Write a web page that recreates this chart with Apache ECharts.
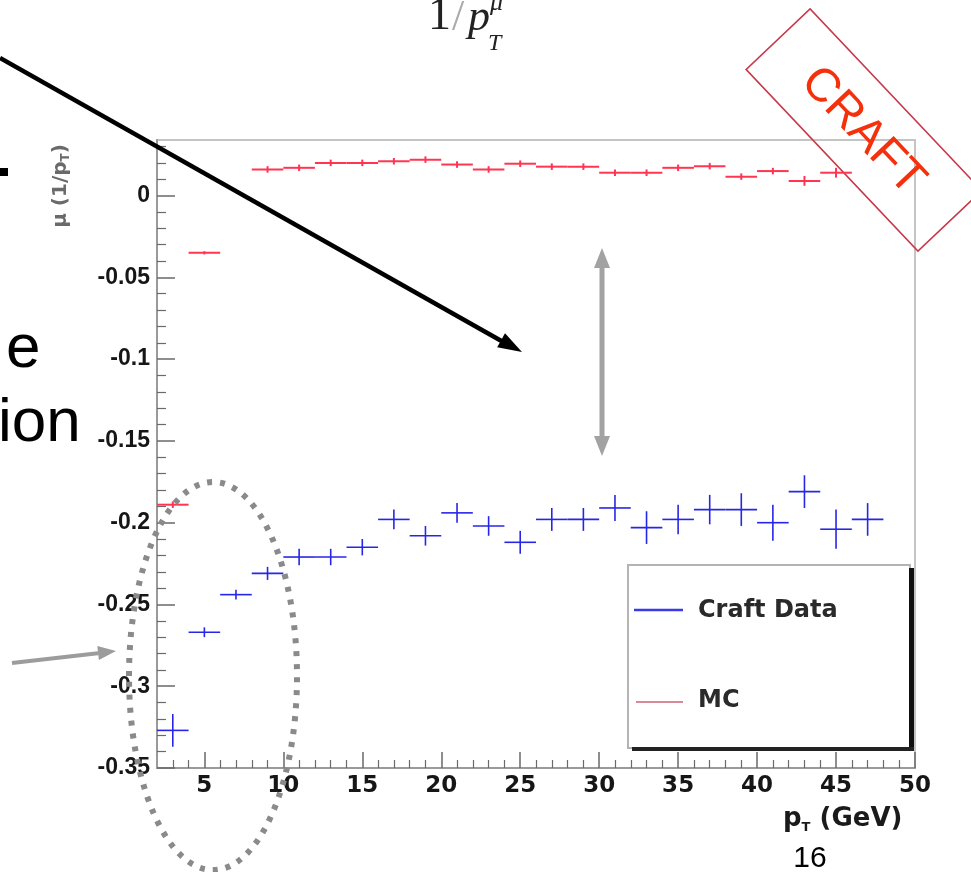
<!DOCTYPE html>
<html>
<head>
<meta charset="utf-8">
<script src="https://cdn.jsdelivr.net/npm/echarts@6/dist/echarts.min.js"></script>
<style>
  html, body { margin: 0; padding: 0; background: #ffffff; }
  #chart { width: 971px; height: 872px; }
</style>
</head>
<body>
<div id="chart"></div>
<script>
// pT bin centres (GeV), bins are 2 GeV wide
const binCenters = [3, 5, 7, 9, 11, 13, 15, 17, 19, 21, 23, 25, 27, 29, 31, 33, 35, 37, 39, 41, 43, 45, 47];
const binHalfWidth = 1;

// Mean of 1/pT residual, cosmic data
const craftMean = [-0.327, -0.267, -0.244, -0.231, -0.221, -0.221, -0.215, -0.198, -0.208, -0.194, -0.202, -0.212, -0.198, -0.198, -0.191, -0.203, -0.198, -0.192, -0.192, -0.200, -0.181, -0.204, -0.198];
const craftErr  = [0.010, 0.003, 0.003, 0.004, 0.005, 0.005, 0.005, 0.006, 0.006, 0.006, 0.006, 0.007, 0.007, 0.007, 0.008, 0.010, 0.009, 0.009, 0.010, 0.011, 0.010, 0.012, 0.010];

// Mean of 1/pT residual, simulation (null = empty bin)
const mcMean = [-0.189, -0.035, null, 0.016, 0.017, 0.020, 0.020, 0.021, 0.022, 0.019, 0.016, 0.0195, 0.0177, 0.0177, 0.014, 0.014, 0.017, 0.018, 0.0116, 0.015, 0.009, 0.014, null];
const mcErr  = [0.002, 0.001, null, 0.002, 0.002, 0.002, 0.002, 0.002, 0.002, 0.002, 0.002, 0.002, 0.002, 0.002, 0.002, 0.002, 0.002, 0.002, 0.002, 0.002, 0.003, 0.003, null];

// Axis ticks
const xMajorTicks = [5, 10, 15, 20, 25, 30, 35, 40, 45, 50];
const xMinorTicks = [3, 4, 6, 7, 8, 9, 11, 12, 13, 14, 16, 17, 18, 19, 21, 22, 23, 24, 26, 27, 28, 29, 31, 32, 33, 34, 36, 37, 38, 39, 41, 42, 43, 44, 46, 47, 48, 49];
const yMajorTicks = [0, -0.05, -0.1, -0.15, -0.2, -0.25, -0.3, -0.35];
const yMinorTicks = [0.03, 0.02, 0.01, -0.01, -0.02, -0.03, -0.04, -0.06, -0.07, -0.08, -0.09, -0.11, -0.12, -0.13, -0.14, -0.16, -0.17, -0.18, -0.19, -0.21, -0.22, -0.23, -0.24, -0.26, -0.27, -0.28, -0.29, -0.31, -0.32, -0.33, -0.34];

function buildPoints(means, errs) {
  const out = [];
  for (let i = 0; i < binCenters.length; i++) {
    if (means[i] === null) continue;
    out.push([binCenters[i], means[i], errs[i]]);
  }
  return out;
}

// Error cross: horizontal bar spans the bin, vertical bar spans +-error
function crossRenderer(color, width) {
  return function (params, api) {
    const x = api.value(0), y = api.value(1), e = api.value(2);
    const l = api.coord([x - binHalfWidth, y]);
    const r = api.coord([x + binHalfWidth, y]);
    const t = api.coord([x, y + e]);
    const b = api.coord([x, y - e]);
    return {
      type: 'group',
      children: [
        { type: 'line', shape: { x1: l[0], y1: l[1], x2: r[0], y2: r[1] }, style: { stroke: color, lineWidth: width } },
        { type: 'line', shape: { x1: t[0], y1: t[1], x2: b[0], y2: b[1] }, style: { stroke: color, lineWidth: width } }
      ]
    };
  };
}

// Arrow helper for slide annotations
function arrowHead(x1, y1, x2, y2, len, half, color) {
  const dx = x2 - x1, dy = y2 - y1, d = Math.hypot(dx, dy);
  const ux = dx / d, uy = dy / d;
  const bx = x2 - ux * len, by = y2 - uy * len;
  return {
    type: 'polygon',
    shape: { points: [[x2, y2], [bx - uy * half, by + ux * half], [bx + uy * half, by - ux * half]] },
    style: { fill: color }
  };
}

const chart = echarts.init(document.getElementById('chart'), null, { renderer: 'canvas' });

const option = {
  backgroundColor: '#ffffff',
  animation: false,
  grid: { left: 157, right: 56, top: 140, bottom: 104, show: true, borderColor: '#c4c4c4', borderWidth: 2 },
  xAxis: [
    {
      type: 'value', min: 2, max: 50, position: 'bottom',
      axisLine: { show: true, onZero: false, lineStyle: { color: '#9a9a9a', width: 2 } },
      axisTick: { show: true, inside: true, length: 16, customValues: xMajorTicks, lineStyle: { color: '#6a6a6a', width: 1.5 } },
      axisLabel: { customValues: xMajorTicks, margin: 7, fontFamily: 'DejaVu Sans', fontWeight: 'bold', fontSize: 23, color: '#161616' },
      splitLine: { show: false }
    },
    {
      type: 'value', min: 2, max: 50, position: 'bottom', offset: 0,
      axisLine: { show: false, onZero: false },
      axisTick: { show: true, inside: true, length: 8, customValues: xMinorTicks, lineStyle: { color: '#6a6a6a', width: 1.2 } },
      axisLabel: { show: false },
      splitLine: { show: false }
    }
  ],
  yAxis: [
    {
      type: 'value', min: -0.35, max: 0.034, position: 'left',
      axisLine: { show: true, onZero: false, lineStyle: { color: '#9a9a9a', width: 2 } },
      axisTick: { show: true, inside: true, length: 18, customValues: yMajorTicks, lineStyle: { color: '#6a6a6a', width: 1.5 } },
      axisLabel: { customValues: yMajorTicks, margin: 7, fontFamily: 'Liberation Sans', fontWeight: 'bold', fontSize: 23, color: '#161616' },
      splitLine: { show: false }
    },
    {
      type: 'value', min: -0.35, max: 0.034, position: 'left', offset: 0,
      axisLine: { show: false, onZero: false },
      axisTick: { show: true, inside: true, length: 9, customValues: yMinorTicks, lineStyle: { color: '#6a6a6a', width: 1.2 } },
      axisLabel: { show: false },
      splitLine: { show: false }
    }
  ],
  series: [
    {
      name: 'MC', type: 'custom', xAxisIndex: 0, yAxisIndex: 0,
      renderItem: crossRenderer('#ff3552', 2),
      data: buildPoints(mcMean, mcErr), z: 3
    },
    {
      name: 'Craft Data', type: 'custom', xAxisIndex: 0, yAxisIndex: 0,
      renderItem: crossRenderer('#2626e8', 1.6),
      data: buildPoints(craftMean, craftErr), z: 4
    }
  ],
  graphic: [
    // y-axis title
    {
      type: 'text', x: 61, y: 186, rotation: Math.PI / 2,
      style: {
        text: '{m|μ (1/p}{s|T}{m|)}', align: 'center', verticalAlign: 'middle',
        rich: {
          m: { font: 'bold 20px DejaVu Sans', fill: '#6a6a6a' },
          s: { font: 'bold 12px DejaVu Sans', fill: '#6a6a6a', padding: [10, 0, 0, 0] }
        }
      }
    },
    // x-axis title
    {
      type: 'text', x: 783, y: 819,
      style: {
        text: '{m|p}{s|T}{m| (GeV)}', verticalAlign: 'middle',
        rich: {
          m: { font: 'bold 26px DejaVu Sans', fill: '#1a1a1a' },
          s: { font: 'bold 13px DejaVu Sans', fill: '#1a1a1a', padding: [17, 0, 0, 0] }
        }
      }
    },
    // legend box
    { type: 'rect', shape: { x: 909, y: 568, width: 5, height: 183 }, style: { fill: '#111' }, z: 10 },
    { type: 'rect', shape: { x: 632, y: 747, width: 282, height: 4 }, style: { fill: '#222' }, z: 10 },
    { type: 'rect', shape: { x: 628, y: 565, width: 282, height: 183 }, style: { fill: '#ffffff', stroke: '#b4b4b4', lineWidth: 2 }, z: 9 },
    { type: 'line', shape: { x1: 634, y1: 610, x2: 683, y2: 610 }, style: { stroke: '#3a3ae8', lineWidth: 2.5 }, z: 11 },
    { type: 'text', x: 698, y: 611, style: { text: 'Craft Data', font: 'bold 24px DejaVu Sans', fill: '#2a2a2a', verticalAlign: 'middle' }, z: 11 },
    { type: 'line', shape: { x1: 636, y1: 702, x2: 683, y2: 702 }, style: { stroke: '#d88a96', lineWidth: 2 }, z: 11 },
    { type: 'text', x: 698, y: 701, style: { text: 'MC', font: 'bold 24px DejaVu Sans', fill: '#2a2a2a', verticalAlign: 'middle' }, z: 11 },

    // CRAFT stamp
    {
      type: 'group', x: 864, y: 130, rotation: -46.6 * Math.PI / 180, z: 20,
      children: [
        { type: 'rect', shape: { x: -125, y: -44, width: 250, height: 88 }, style: { fill: 'none', stroke: '#c8384a', lineWidth: 1.6 } },
        { type: 'text', x: 0, y: 2, style: { text: 'CRAFT', font: '47px Liberation Sans', fill: '#f5300c', align: 'center', verticalAlign: 'middle' } }
      ]
    },

    // slide annotations: black arrow
    { type: 'line', shape: { x1: 0, y1: 58, x2: 505, y2: 343 }, style: { stroke: '#000', lineWidth: 4.5 }, z: 15 },
    Object.assign(arrowHead(0, 58, 522, 352, 24, 8, '#000'), { z: 15 }),
    // grey double arrow between the two populations
    { type: 'line', shape: { x1: 602, y1: 262, x2: 602, y2: 440 }, style: { stroke: '#a2a2a2', lineWidth: 5 }, z: 15 },
    Object.assign(arrowHead(602, 350, 602, 248, 20, 8, '#a2a2a2'), { z: 15 }),
    Object.assign(arrowHead(602, 350, 602, 456, 20, 8, '#a2a2a2'), { z: 15 }),
    // grey arrow pointing at low-pT region
    { type: 'line', shape: { x1: 12, y1: 663, x2: 100, y2: 653 }, style: { stroke: '#9c9c9c', lineWidth: 4 }, z: 15 },
    Object.assign(arrowHead(12, 663, 116, 651, 18, 7, '#9c9c9c'), { z: 15 }),
    // dotted ellipse
    {
      type: 'ellipse', shape: { cx: 213, cy: 676, rx: 84, ry: 194 }, z: 15,
      style: { fill: 'none', stroke: '#8a8a8a', lineWidth: 6, lineDash: [5, 8] }
    },

    // slide text fragments
    { type: 'text', x: 6, y: 381, style: { text: 'e', font: '62px Liberation Sans', fill: '#000', verticalAlign: 'bottom' }, z: 15 },
    { type: 'text', x: -2, y: 455, style: { text: 'ion', font: '62px Liberation Sans', fill: '#000', verticalAlign: 'bottom' }, z: 15 },
    { type: 'rect', shape: { x: 0, y: 168, width: 8, height: 8 }, style: { fill: '#000' }, z: 15 },
    { type: 'text', x: 810, y: 874, style: { text: '16', font: '30px Liberation Sans', fill: '#000', align: 'center', verticalAlign: 'bottom' }, z: 15 },

    // formula heading, partly above the page edge
    { type: 'text', x: 428, y: 40, style: { text: '1', font: '46px Liberation Serif', fill: '#222', verticalAlign: 'bottom' }, z: 15 },
    { type: 'text', x: 452, y: 40, style: { text: '/', font: '44px Liberation Serif', fill: '#aaa', verticalAlign: 'bottom' }, z: 15 },
    { type: 'text', x: 468, y: 40, style: { text: 'p', font: 'italic 44px Liberation Serif', fill: '#222', verticalAlign: 'bottom' }, z: 15 },
    { type: 'text', x: 488, y: 56, style: { text: 'T', font: 'italic 24px Liberation Serif', fill: '#222', verticalAlign: 'bottom' }, z: 15 },
    { type: 'text', x: 490, y: 16, style: { text: 'μ', font: 'italic 26px Liberation Serif', fill: '#222', verticalAlign: 'bottom' }, z: 15 }
  ]
};

chart.setOption(option);
</script>
</body>
</html>
